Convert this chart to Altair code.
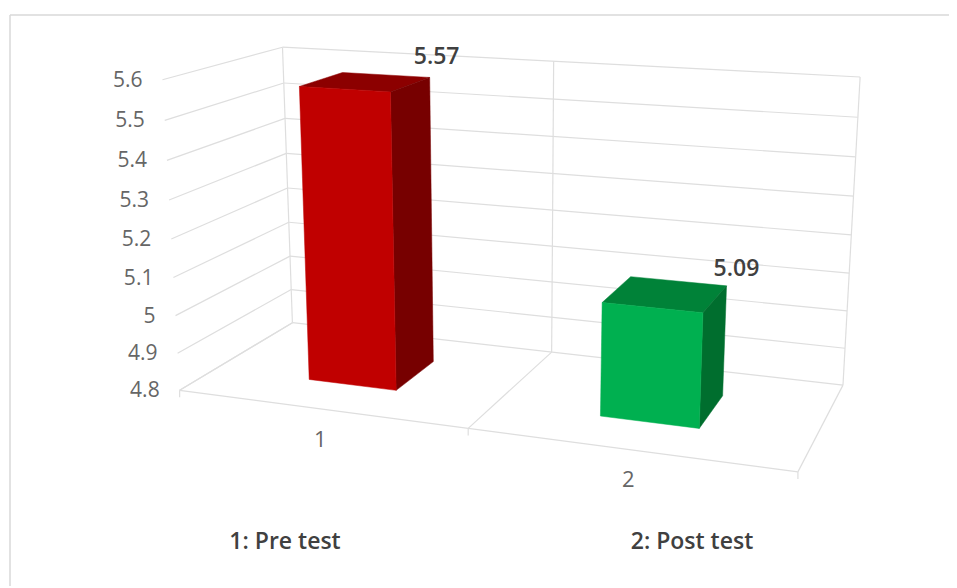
import altair as alt
import numpy as np
import pandas as pd

# chart content
categories = ["1", "2"]
values = [5.57, 5.09]
tick_values = [4.8, 4.9, 5.0, 5.1, 5.2, 5.3, 5.4, 5.5, 5.6]
tick_labels = ["4.8", "4.9", "5", "5.1", "5.2", "5.3", "5.4", "5.5", "5.6"]
legend_notes = ["1: Pre test", "2: Post test"]
front_colors = ["#C00000", "#00B050"]
top_colors = ["#8C0000", "#008238"]
side_colors = ["#770000", "#006E2E"]

# picture frame and the 3-D view of the plot box
W, H = 941, 578
VMIN, VMAX = tick_values[0], tick_values[-1]
corners = [
    ((0, 0, 0), (180, 390)), ((0, 0, 1), (162, 80)),
    ((0, 1, 0), (292, 323)), ((0, 1, 1), (283, 47)),
    ((1, 1, 0), (843, 385)), ((1, 1, 1), (860, 77)),
    ((1, 0, 0), (798, 472)),
]
A, b = [], []
for (u, w, t), (px, py) in corners:
    A.append([u, w, t, 1, 0, 0, 0, 0, -px * u, -px * w, -px * t]); b.append(px)
    A.append([0, 0, 0, 0, u, w, t, 1, -py * u, -py * w, -py * t]); b.append(py)
sol = np.linalg.lstsq(np.array(A, float), np.array(b, float), rcond=None)[0]
M = np.append(sol, 1.0).reshape(3, 4)


def project(u, w, v):
    t = (v - VMIN) / (VMAX - VMIN)
    q = M @ np.array([u, w, t, 1.0])
    return float(q[0] / q[2]), float(q[1] / q[2])


# gridlines
segs = []


def seg(p, q):
    segs.append({"x": p[0], "y": p[1], "x2": q[0], "y2": q[1]})


for v in tick_values:
    seg(project(0, 0, v), project(0, 1, v))
    seg(project(0, 1, v), project(1, 1, v))
for u in (0, 0.5, 1):
    seg(project(u, 1, VMIN), project(u, 1, VMAX))
    seg(project(u, 0, VMIN), project(u, 1, VMIN))
    a = project(u, 0, VMIN)
    seg(a, (a[0], a[1] + 7))
seg(project(0, 0, VMIN), project(1, 0, VMIN))
grid = pd.DataFrame(segs)

frame = pd.DataFrame([
    {"x": 10, "y": 15, "x2": W + 8, "y2": 15},
    {"x": 10, "y": 15, "x2": 10, "y2": H + 8},
])

# bars
centres = [0.25, 0.75]
half_u = 0.078
w0, w1 = 0.305, 0.70
polys = []


def face(name, pts, colour):
    for i, p in enumerate(pts):
        polys.append({"face": name, "i": i, "x": p[0], "y": p[1], "colour": colour})


for n, (c, val) in enumerate(zip(centres, values)):
    l, r = c - half_u, c + half_u
    face(f"t{n}", [project(l, w0, val), project(r, w0, val), project(r, w1, val), project(l, w1, val)], top_colors[n])
    face(f"s{n}", [project(r, w0, VMIN), project(r, w1, VMIN), project(r, w1, val), project(r, w0, val)], side_colors[n])
    face(f"f{n}", [project(l, w0, VMIN), project(r, w0, VMIN), project(r, w0, val), project(l, w0, val)], front_colors[n])
polys = pd.DataFrame(polys)

# texts
tick_df = pd.DataFrame([
    {"x": project(0, 0, v)[0] - 20, "y": project(0, 0, v)[1] + 1, "t": s}
    for v, s in zip(tick_values, tick_labels)
])
cat_df = pd.DataFrame([
    {"x": project(c, 0, VMIN)[0] + 1, "y": project(c, 0, VMIN)[1] + 31, "t": s}
    for c, s in zip(centres, categories)
])
val_df = pd.DataFrame([
    {"x": project(c, (w0 + w1) / 2, v)[0] + 71, "y": project(c, (w0 + w1) / 2, v)[1] - 25, "t": f"{v:.2f}"}
    for c, v in zip(centres, values)
])
note_df = pd.DataFrame({"x": [285, 692], "y": [542, 542], "t": legend_notes})

X = alt.X("x:Q", axis=None, scale=alt.Scale(domain=[8, W + 8]))
Y = alt.Y("y:Q", axis=None, scale=alt.Scale(domain=[H + 8, 8]))


def rules(df, colour, width):
    return alt.Chart(df).mark_rule(color=colour, strokeWidth=width).encode(X, Y, x2="x2:Q", y2="y2:Q")


def texts(df, size, colour, weight="normal", align="center"):
    return alt.Chart(df).mark_text(font="Open Sans", fontSize=size, color=colour, fontWeight=weight,
                                   align=align, baseline="middle").encode(X, Y, text="t:N")


layers = [rules(frame, "#D9D9D9", 1.5), rules(grid, "#DEDEDE", 1.2)]
for name, g in polys.groupby("face", sort=False):
    colour = g["colour"].iloc[0]
    layers.append(alt.Chart(g).mark_line(interpolate="linear-closed", fill=colour, stroke=colour, strokeWidth=0.5)
                  .encode(X, Y, order="i:Q"))
layers += [
    texts(tick_df, 21, "#666666", align="right"),
    texts(cat_df, 22, "#666666"),
    texts(val_df, 23, "#404040", weight=600),
    texts(note_df, 23, "#404040", weight=600),
]

chart = alt.layer(*layers).properties(
    width=W, height=H, padding=0, background="white", autosize=alt.AutoSizeParams(type="none")
).configure_view(strokeWidth=0, stroke="transparent")

chart.save("out.html", embed_options={"renderer": "svg", "actions": False})
